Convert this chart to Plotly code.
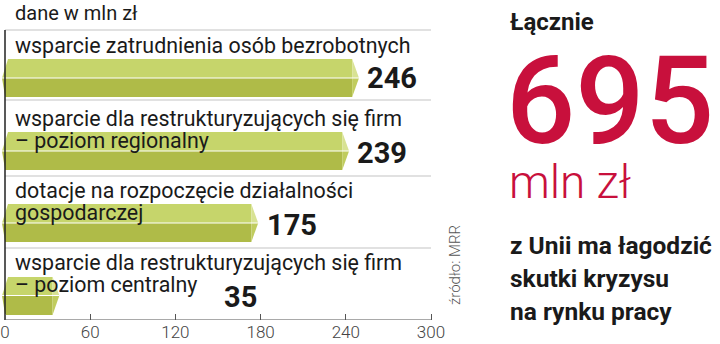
import plotly.graph_objects as go

# ---------------- data ----------------
categories = [
    "wsparcie zatrudnienia osób bezrobotnych",
    "wsparcie dla restrukturyzujących się firm<br>– poziom regionalny",
    "dotacje na rozpoczęcie działalności<br>gospodarczej",
    "wsparcie dla restrukturyzujących się firm<br>– poziom centralny",
]
values = [246, 239, 175, 35]
tick_vals = [0, 60, 120, 180, 240, 300]
total = 695
unit_note = "dane w mln zł"
source = "źródło: MRR"
headline = "Łącznie"
total_unit = "mln zł"
caption = ["z Unii ma łagodzić", "skutki kryzysu", "na rynku pracy"]

# ---------------- layout helpers ----------------
W, H = 720, 344
X0PX, PXPU = 5.0, 426.0 / 300.0       # pixel of value 0, pixels per unit
AXIS_Y = 320                           # pixel row of x axis


def px2x(px):
    return (px - X0PX) / PXPU


# pixel rows of each bar (top, mid, bottom)
bar_rows = [(59, 78, 97), (132, 151, 170), (204, 223, 242), (277, 295.5, 315)]
label_rows = [[45], [118, 140], [190, 212], [262, 284]]
value_pos = [(365, 78), (355, 153), (265, 225), (222, 297)]
sep_rows = [30, 100, 176, 248]

LIGHT = "#c6d56b"
DARK = "#afbb48"
CAP_LIGHT = "#d8e293"
CAP_DARK = "#c0cc5e"
RED = "#c8103c"
TXT = "#1a1a1a"

fig = go.Figure()


def poly(xs, ys, color):
    fig.add_trace(go.Scatter(x=xs + [xs[0]], y=ys + [ys[0]], fill="toself",
                             fillcolor=color, mode="lines", line=dict(width=0),
                             hoverinfo="skip", showlegend=False))


# separator lines
for r in sep_rows:
    fig.add_trace(go.Scatter(x=[0, 300], y=[r, r], mode="lines",
                             line=dict(color="#c4c4c4", width=1.2),
                             hoverinfo="skip", showlegend=False))

# bars built from values
for v, (top, mid, bot) in zip(values, bar_rows):
    L = px2x(2)
    Lt = px2x(8)
    R = v - 1.5
    T = v + 3.3
    poly([L, Lt, R, R], [mid, top, top, mid], LIGHT)
    poly([L, R, R, Lt - 2], [mid, mid, bot, bot], DARK)
    poly([R, T, R], [top, mid, mid], CAP_LIGHT)
    poly([R, T, R], [mid, mid, bot], CAP_DARK)
    fig.add_trace(go.Scatter(x=[L, T], y=[mid, mid], mode="lines",
                             line=dict(color="white", width=1),
                             hoverinfo="skip", showlegend=False))

# left vertical line and x axis line
fig.add_trace(go.Scatter(x=[0, 0], y=[30, AXIS_Y], mode="lines",
                         line=dict(color="#222", width=1.5),
                         hoverinfo="skip", showlegend=False))
fig.add_trace(go.Scatter(x=[0, 300], y=[AXIS_Y, AXIS_Y], mode="lines",
                         line=dict(color="#555", width=1.2),
                         hoverinfo="skip", showlegend=False))

annotations = []
FONT = "Roboto"
annotations.append(dict(x=px2x(13), y=13, xref="x", yref="y", text=unit_note,
                        showarrow=False, xanchor="left", yanchor="middle",
                        font=dict(family=FONT, size=20, color=TXT)))

for cat, rows in zip(categories, label_rows):
    for line, r in zip(cat.split("<br>"), rows):
        annotations.append(dict(x=px2x(13), y=r, xref="x", yref="y", text=line,
                                showarrow=False, xanchor="left", yanchor="middle",
                                font=dict(family=FONT, size=21.4, color=TXT)))

for v, (px, py) in zip(values, value_pos):
    annotations.append(dict(x=px2x(px), y=py, xref="x", yref="y", text=f"<b>{v}</b>",
                            showarrow=False, xanchor="left", yanchor="middle",
                            font=dict(family=FONT, size=29, color=TXT)))

# right panel
annotations.append(dict(x=508 / W, y=22, xref="paper", yref="y", text=f"<b>{headline}</b>",
                        showarrow=False, xanchor="left", yanchor="middle",
                        font=dict(family=FONT, size=24, color=TXT)))
annotations.append(dict(x=504 / W, y=101, xref="paper", yref="y", text=str(total),
                        showarrow=False, xanchor="left", yanchor="middle",
                        font=dict(family=FONT, size=122, color=RED, weight=500)))
annotations.append(dict(x=507 / W, y=182, xref="paper", yref="y", text=total_unit,
                        showarrow=False, xanchor="left", yanchor="middle",
                        font=dict(family=FONT, size=46, color=RED, weight=300)))
for i, line in enumerate(caption):
    annotations.append(dict(x=508 / W, y=245 + 33 * i, xref="paper", yref="y",
                            text=f"<b>{line}</b>", showarrow=False,
                            xanchor="left", yanchor="middle",
                            font=dict(family=FONT, size=24.5, color=TXT)))
annotations.append(dict(x=455 / W, y=265, xref="paper", yref="y", text=source,
                        showarrow=False, textangle=-90, xanchor="center", yanchor="middle",
                        font=dict(family=FONT, size=15, color="#555", weight=300)))

fig.update_layout(
    width=W, height=H,
    margin=dict(l=0, r=0, t=0, b=0),
    paper_bgcolor="white", plot_bgcolor="white",
    annotations=annotations,
    showlegend=False,
    xaxis=dict(domain=[0, 1], range=[px2x(0), px2x(W)], tickvals=tick_vals,
               ticks="inside", ticklen=6, tickcolor="#555", tickwidth=1,
               showgrid=False, zeroline=False, showline=False,
               tickfont=dict(family=FONT, size=17, color="#444", weight=300),
               fixedrange=True),
    yaxis=dict(domain=[(H - AXIS_Y) / H, 1], range=[AXIS_Y, 0], visible=False,
               fixedrange=True),
)

fig.write_html("out.html")
